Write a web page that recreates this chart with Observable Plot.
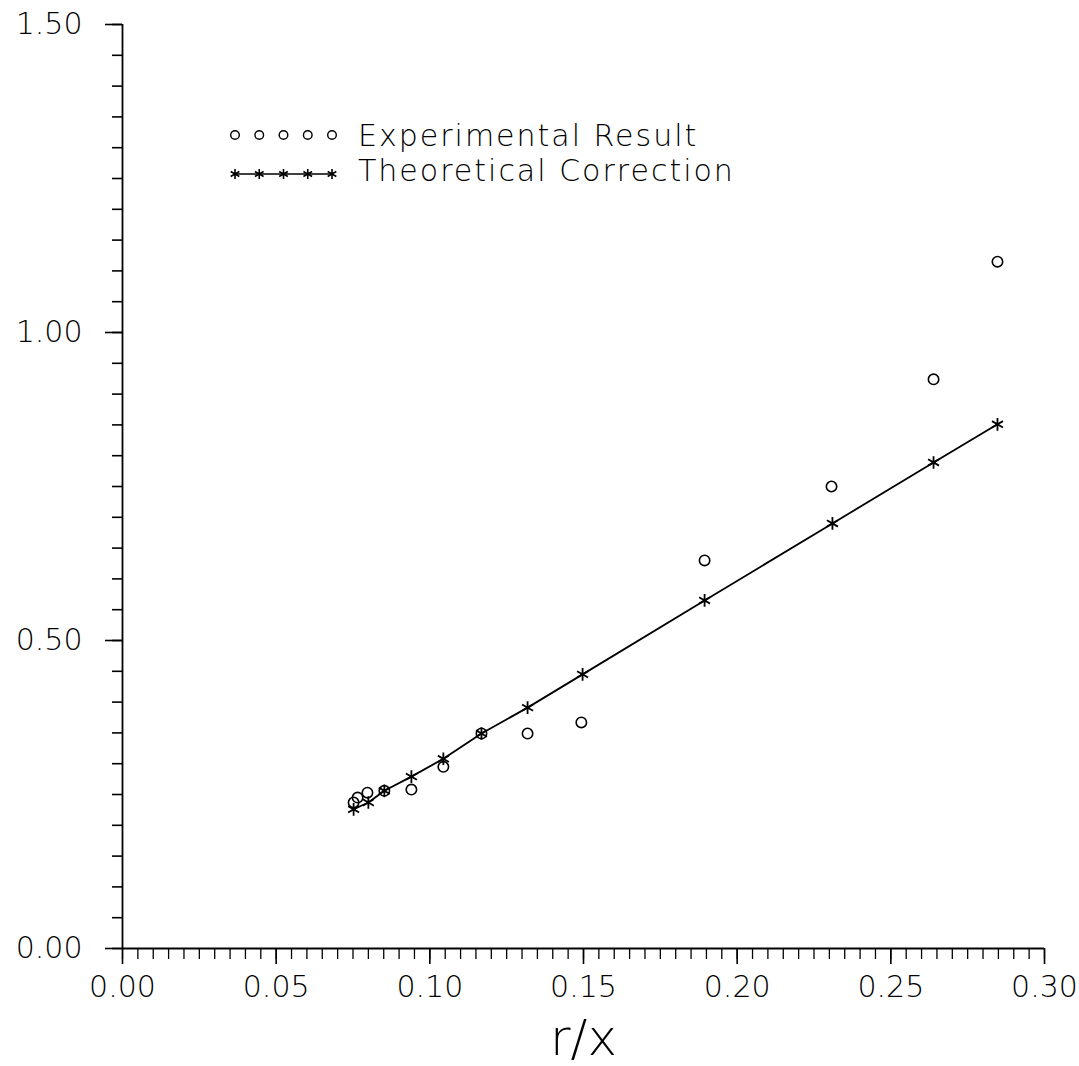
<!DOCTYPE html>
<html>
<head>
<meta charset="utf-8">
<script src="https://cdn.jsdelivr.net/npm/d3@7"></script>
<script src="https://cdn.jsdelivr.net/npm/@observablehq/plot@0.6"></script>
<style>
  html, body { margin: 0; padding: 0; background: #fff; }
  #wrap { position: relative; width: 1079px; height: 1066px; }
  #wrap svg text { font-family: "DejaVu Sans", sans-serif; font-weight: 200; }
  #legend { position: absolute; left: 0; top: 0; pointer-events: none; }
</style>
</head>
<body>
<div id="wrap"></div>
<script>
// Experimental result (circles)
const expX = [0.0752, 0.0765, 0.0797, 0.0852, 0.0940, 0.1044, 0.1168, 0.1318, 0.1493, 0.1894, 0.2307, 0.2639, 0.2847];
const expY = [0.237, 0.245, 0.253, 0.256, 0.258, 0.295, 0.349, 0.349, 0.367, 0.630, 0.750, 0.924, 1.115];
// Theoretical correction (asterisks + line)
const theoX = [0.0752, 0.0800, 0.0852, 0.0940, 0.1044, 0.1168, 0.1318, 0.1497, 0.1894, 0.2310, 0.2639, 0.2847];
const theoY = [0.226, 0.237, 0.256, 0.279, 0.308, 0.349, 0.391, 0.445, 0.565, 0.690, 0.789, 0.851];

const xMajorTicks = [0, 0.05, 0.10, 0.15, 0.20, 0.25, 0.30];
const xMinorTicks = d3.range(0, 61).map(i => i * 0.005);
const yMajorTicks = [0, 0.5, 1.0, 1.5];
const yMinorTicks = d3.range(0, 31).map(i => i * 0.05);

const legendLabels = ["Experimental Result", "Theoretical Correction"];
const xTitle = "r/x";

const expData = expX.map((x, i) => ({x, y: expY[i]}));
const theoData = theoX.map((x, i) => ({x, y: theoY[i]}));

const chart = Plot.plot({
  width: 1079,
  height: 1066,
  marginLeft: 122,
  marginRight: 35,
  marginTop: 24,
  marginBottom: 118,
  x: {domain: [0, 0.3]},
  y: {domain: [0, 1.5]},
  style: {fontFamily: "DejaVu Sans", color: "black", background: "white"},
  marks: [
    Plot.axisY({ticks: yMinorTicks, tickSize: 10, tickFormat: () => "", label: null, strokeWidth: 1.6}),
    Plot.axisY({ticks: yMajorTicks, tickSize: 17, tickPadding: 23, tickFormat: d3.format(".2f"), label: null, fontSize: 30, fontWeight: 200, letterSpacing: 1.5, strokeWidth: 1.6}),
    Plot.axisX({ticks: xMinorTicks, tickSize: 11, tickFormat: () => "", label: null, strokeWidth: 1.3}),
    Plot.axisX({ticks: xMajorTicks, tickSize: 16, tickPadding: 11, tickFormat: d3.format(".2f"), label: null, fontSize: 30, fontWeight: 200, letterSpacing: 1.5, strokeWidth: 1.6}),
    Plot.ruleX([0], {y1: 0, y2: 1.5, strokeWidth: 1.8}),
    Plot.ruleY([0], {x1: 0, x2: 0.3, strokeWidth: 2}),
    Plot.line(theoData, {x: "x", y: "y", stroke: "black", strokeWidth: 1.8}),
    Plot.dot(theoData, {x: "x", y: "y", symbol: "asterisk", r: 6, stroke: "black", strokeWidth: 1.8}),
    Plot.dot(expData, {x: "x", y: "y", symbol: "circle", r: 5.2, stroke: "black", strokeWidth: 1.6, fill: "none"}),
    Plot.text([xTitle], {text: d => d, frameAnchor: "bottom", lineAnchor: "bottom", dy: 106, fontSize: 50, fontWeight: 200, letterSpacing: 9})
  ]
});

const wrap = document.getElementById("wrap");
wrap.appendChild(chart);

// Legend overlay
const leg = d3.select(wrap).append("svg")
  .attr("id", "legend")
  .attr("width", 1079).attr("height", 1066);

const lx0 = 235, lx1 = 332, textX = 358;
const row1 = 135, row2 = 174;
const sampleXs = d3.range(5).map(i => lx0 + i * (lx1 - lx0) / 4);

leg.selectAll("circle.s").data(sampleXs).join("circle")
  .attr("cx", d => d).attr("cy", row1).attr("r", 4.3)
  .attr("fill", "none").attr("stroke", "black").attr("stroke-width", 1.4);

leg.append("line").attr("x1", lx0).attr("x2", lx1).attr("y1", row2).attr("y2", row2)
  .attr("stroke", "black").attr("stroke-width", 1.6);
const ast = d3.symbol(d3.symbolAsterisk, 70)();
leg.selectAll("path.s").data(sampleXs).join("path")
  .attr("d", ast).attr("transform", d => `translate(${d},${row2})`)
  .attr("fill", "none").attr("stroke", "black").attr("stroke-width", 1.6);

leg.selectAll("text.l").data(legendLabels).join("text")
  .attr("x", textX).attr("y", (d, i) => i === 0 ? 146 : 181)
  .attr("font-size", 30).attr("fill", "black")
  .style("letter-spacing", "2px")
  .text(d => d);
</script>
</body>
</html>
